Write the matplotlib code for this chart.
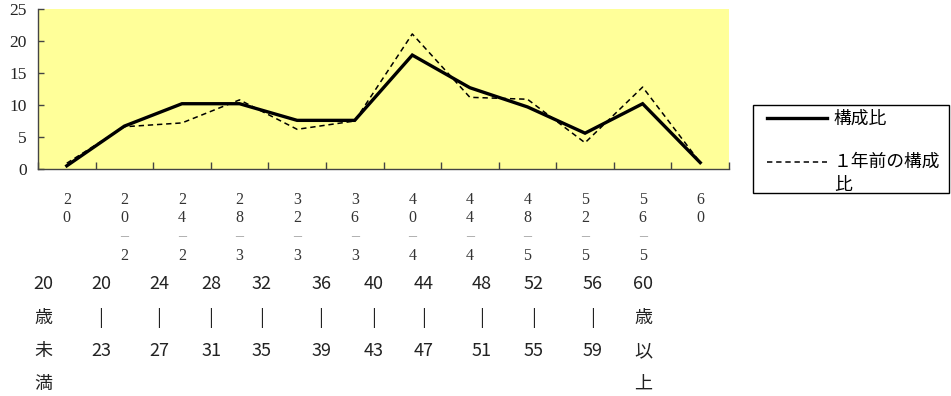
import matplotlib
matplotlib.use("Agg")
import matplotlib.pyplot as plt
from matplotlib.transforms import blended_transform_factory
from matplotlib.lines import Line2D
from matplotlib.patches import Rectangle
import numpy as np

plt.rcParams['font.family'] = ['Noto Sans CJK JP', 'DejaVu Sans']

# ---- data ----
categories = ["20歳未満", "20-23", "24-27", "28-31", "32-35", "36-39",
              "40-43", "44-47", "48-51", "52-55", "56-59", "60歳以上"]
ratio_now = [0.5, 6.7, 10.2, 10.2, 7.6, 7.6, 17.8, 12.7, 9.7, 5.6, 10.2, 1.0]
ratio_prev = [0.9, 6.6, 7.2, 10.8, 6.2, 7.5, 21.1, 11.2, 10.9, 4.1, 12.8, 1.0]
label_now = "構成比"
label_prev_lines = ["１年前の構成", "比"]

# stacked (vertical) tick labels: first two chars, dash, third char
tick_row1 = ["2", "2", "2", "2", "3", "3", "4", "4", "4", "5", "5", "6"]
tick_row2 = ["0", "0", "4", "8", "2", "6", "0", "4", "8", "2", "6", "0"]
tick_row3 = ["", "–", "–", "–", "–", "–", "–", "–", "–", "–", "–", ""]
tick_row4 = ["", "2", "2", "3", "3", "3", "4", "4", "5", "5", "5", ""]

# lower age labels
age_top = ["20", "20", "24", "28", "32", "36", "40", "44", "48", "52", "56", "60"]
age_mid = ["歳", "|", "|", "|", "|", "|", "|", "|", "|", "|", "|", "歳"]
age_low = ["未", "23", "27", "31", "35", "39", "43", "47", "51", "55", "59", "以"]
age_last = ["満", "", "", "", "", "", "", "", "", "", "", "上"]
age_label_px = [43, 101, 159, 211, 262, 321, 374, 424, 482, 534, 593, 643]

W, H = 951, 396
fig = plt.figure(figsize=(W / 100, H / 100), dpi=100)
ax = fig.add_axes([38 / W, 1 - 169 / H, 691 / W, 160 / H])
ax.set_facecolor("#FFFF99")

x = np.arange(len(categories))
solid_style = dict(color="black", lw=2.4, solid_joinstyle="miter")
dash_style = dict(color="black", lw=1.1, ls=(0, (3.5, 2.5)))
ax.plot(x, ratio_now, zorder=3, **solid_style)
ax.plot(x, ratio_prev, zorder=2, **dash_style)

ax.set_xlim(-0.5, len(categories) - 0.5)
ax.set_ylim(0, 25)
ax.set_yticks([0, 5, 10, 15, 20, 25])
ax.set_xticks(np.arange(len(categories) + 1) - 0.5)
ax.set_xticklabels([])
for s in ["top", "right"]:
    ax.spines[s].set_visible(False)
for s in ["left", "bottom"]:
    ax.spines[s].set_color("#444444")
    ax.spines[s].set_linewidth(1.0)
ax.tick_params(axis="x", direction="in", length=5, color="#444444", width=1)
ax.tick_params(axis="y", direction="in", length=4, color="#444444", width=1,
               pad=8)
for t in ax.get_yticklabels():
    t.set_family("Liberation Serif")
    t.set_fontsize(12.5)
    t.set_color("#222222")

# stacked tick labels
btr = blended_transform_factory(ax.transData, fig.transFigure)
rows = [(tick_row1, 200), (tick_row2, 218), (tick_row3, 236), (tick_row4, 256)]
for labels, ypx in rows:
    for i, lab in enumerate(labels):
        if lab:
            fig.text(x[i], 1 - ypx / H, lab, transform=btr, ha="center",
                     va="center", family="Liberation Serif", fontsize=11.5,
                     color="#333333" if lab != "–" else "#999999")

# lower age labels
lrows = [(age_top, 284), (age_mid, 318), (age_low, 351), (age_last, 384)]
for labels, ypx in lrows:
    for i, lab in enumerate(labels):
        if lab:
            fig.text(age_label_px[i] / W, 1 - ypx / H, lab, ha="center",
                     va="center", fontsize=13, color="#222222")

# manual legend
def fx(px):
    return px / W

def fy(py):
    return 1 - py / H

fig.patches.append(Rectangle((fx(753), fy(193)), fx(949) - fx(753),
                             fy(105) - fy(193), transform=fig.transFigure,
                             facecolor="white", edgecolor="black", lw=1.0))
fig.lines.append(Line2D([fx(767), fx(827)], [fy(118), fy(118)],
                        transform=fig.transFigure, **solid_style))
fig.lines.append(Line2D([fx(767), fx(827)], [fy(162), fy(162)],
                        transform=fig.transFigure, **dash_style))
fig.text(fx(834), fy(119), label_now, ha="left", va="center", fontsize=12.8,
         color="black")
fig.text(fx(834), fy(162), label_prev_lines[0], ha="left", va="center",
         fontsize=12.8, color="black")
fig.text(fx(834), fy(185), label_prev_lines[1], ha="left", va="center",
         fontsize=12.8, color="black")

fig.savefig("out.png", dpi=100, facecolor="white")
